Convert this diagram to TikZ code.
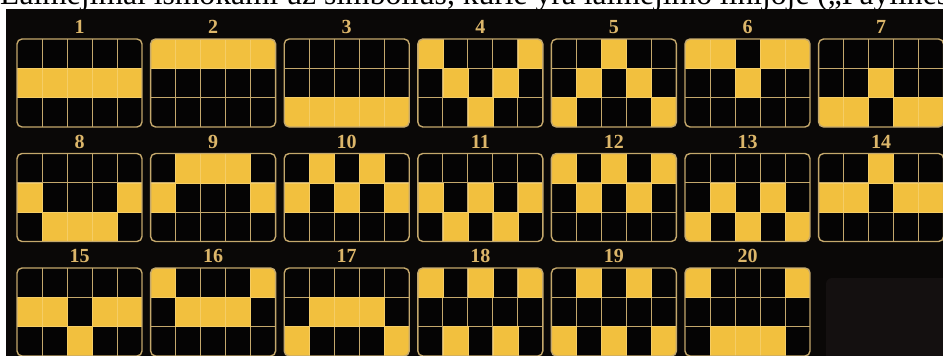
\documentclass[tikz,border=0pt]{standalone}
\usepackage{fontspec}
\setmainfont{Liberation Serif}

\definecolor{bgdark}{RGB}{10,8,7}
\definecolor{goldline}{RGB}{196,168,108}
\definecolor{goldnum}{RGB}{220,182,106}
\definecolor{cellon}{RGB}{242,192,62}
\definecolor{celloff}{RGB}{5,4,4}
\definecolor{shadowbox}{RGB}{20,16,16}

\begin{document}
\begin{tikzpicture}[
        x=1pt, y=-1pt,
        panel/.style={rounded corners=5pt},
        frame/.style={draw=goldline, line width=1.4pt, rounded corners=5pt},
        gridrule/.style={draw=goldline, line width=1pt},
        lit/.style={fill=cellon, draw=cellon!80!white, line width=0.4pt},
        num/.style={text=goldnum, font=\bfseries\fontsize{20}{20}\selectfont, inner sep=0pt},
        caption/.style={anchor=base west, inner sep=0pt, font=\fontsize{31.6}{32}\selectfont}
    ]

        \useasboundingbox (0,0) rectangle (943,356);
        \clip (0,0) rectangle (943,356);

        % ========================================================
        % TEXTO SUPERIOR (CORTADO)
        % ========================================================
        \node[caption] (caption) at (0,5) {Laimėjimai išmokami už simbolius, kurie yra laimėjimo linijoje („Paylines“)};

        % ========================================================
        % FONDO
        % ========================================================
        \fill[bgdark] (6,9) rectangle (943,356);
        \fill[shadowbox, rounded corners=6pt] (826,278) rectangle (960,370);

        % ========================================================
        % LINEAS DE PAGO 1--20
        % ========================================================
        \foreach \n/\lineset in {1/{1,1,1,1,1}, 2/{0,0,0,0,0}, 3/{2,2,2,2,2}, 4/{0,1,2,1,0},
                5/{2,1,0,1,2}, 6/{0,0,1,0,0}, 7/{2,2,1,2,2}, 8/{1,2,2,2,1},
                9/{1,0,0,0,1}, 10/{1,0,1,0,1}, 11/{1,2,1,2,1}, 12/{0,1,0,1,0},
                13/{2,1,2,1,2}, 14/{1,1,0,1,1}, 15/{1,1,2,1,1}, 16/{0,1,1,1,0},
                17/{2,1,1,1,2}, 18/{0,2,0,2,0}, 19/{2,0,2,0,2}, 20/{0,2,2,2,0}} {
            \pgfmathtruncatemacro{\prow}{(\n-1)/7}
            \pgfmathtruncatemacro{\pcol}{mod(\n-1,7)}
            \pgfmathsetmacro{\px}{17+133.6*\pcol}
            \pgfmathsetmacro{\py}{39+114.5*\prow}
            \begin{scope}[shift={(\px,\py)}]
                \fill[celloff, panel] (0,0) rectangle (125,88);
                \foreach \k in {1,...,4} \draw[gridrule] ({25*\k},0) -- ({25*\k},88);
                \foreach \k in {1,2} \draw[gridrule] (0,{88/3*\k}) -- (125,{88/3*\k});
                \begin{scope}
                    \clip[panel] (0,0) rectangle (125,88);
                    \foreach \r [count=\c from 0] in \lineset
                        \filldraw[lit] ({25*\c},{88/3*\r}) rectangle ++(25,88/3);
                \end{scope}
                \draw[frame] (0,0) rectangle (125,88);
                \node[num] (num\n) at (62.5,-12) {\n};
            \end{scope}
        }

    \end{tikzpicture}
\end{document}
